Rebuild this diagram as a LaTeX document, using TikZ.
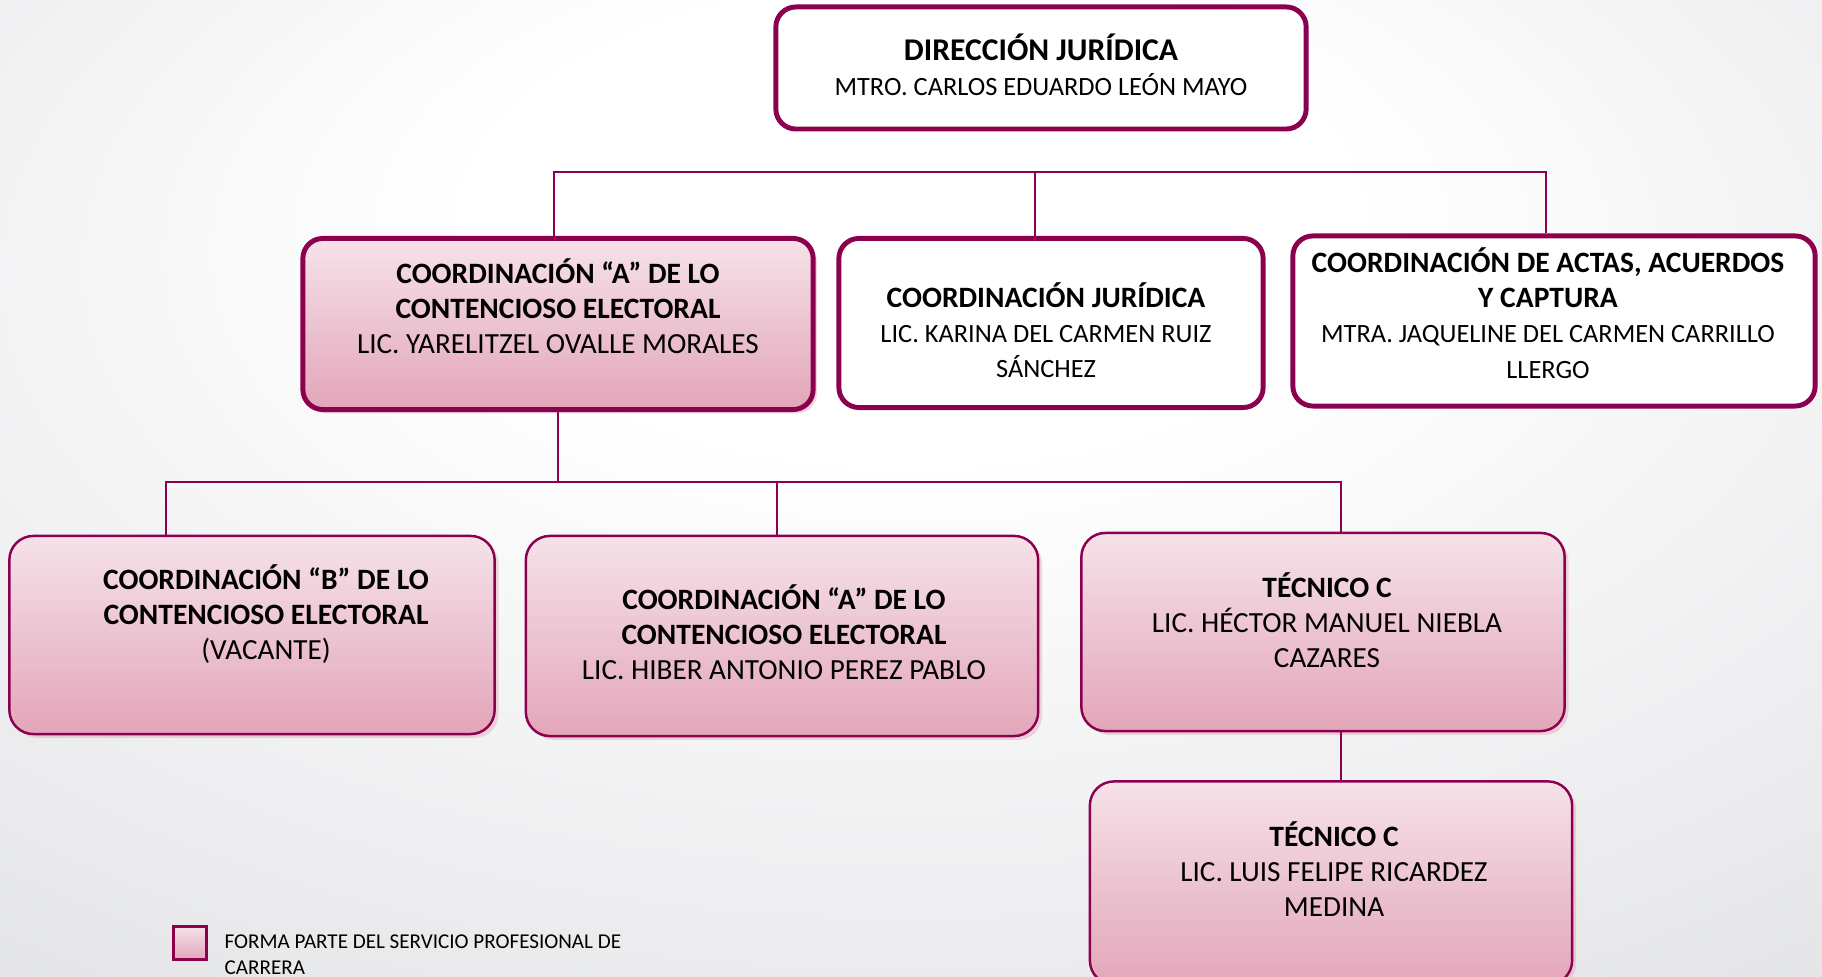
\documentclass[tikz,border=0pt]{standalone}
\usepackage{fontspec}
\setmainfont{Carlito}
\usetikzlibrary{shadows}

\definecolor{vino}{RGB}{140,0,80}
\definecolor{rosaclaro}{RGB}{246,226,233}
\definecolor{rosaosc}{RGB}{227,166,185}
\definecolor{gris}{RGB}{222,223,226}
\pgfdeclareradialshading{fondo}{\pgfpoint{0bp}{16bp}}{color(0bp)=(white); color(12bp)=(white); color(48bp)=(gris); color(80bp)=(gris)}
\newcommand{\titulo}[1]{{\fontsize{8.4}{10}\selectfont\bfseries #1}}

\begin{document}
\begin{tikzpicture}[x=0.01cm,y=-0.01cm,font=\fontsize{8.3}{10}\selectfont,
  caja/.style={draw=vino,line width=1.4pt,rounded corners=0.2cm,fill=white},
  rosa/.style={draw=vino,line width=0.7pt,rounded corners=0.24cm,
    top color=rosaclaro,bottom color=rosaosc,
    drop shadow={shadow xshift=1.1pt,shadow yshift=-1.1pt,fill=rosaosc,opacity=0.45}},
  rosagrueso/.style={rosa,line width=1.4pt,rounded corners=0.2cm},
  texto/.style={align=center,inner sep=0pt},
  textochico/.style={texto,font=\fontsize{7.5}{10}\selectfont},
  linea/.style={draw=vino,line width=0.7pt}]

\useasboundingbox (0,0) rectangle (1822,977);
\clip (0,0) rectangle (1822,977);
\shade[shading=fondo] (0,0) rectangle (1822,977);

% direccion
\node[caja,minimum width=5.3cm,minimum height=1.22cm] (dir) at (1041,68) {};
\node[textochico] (dirt) at (1041,65) {{\fontsize{9}{10}\selectfont\bfseries DIRECCIÓN JURÍDICA}\\MTRO. CARLOS EDUARDO LEÓN MAYO};

% coordinaciones
\node[rosagrueso,minimum width=5.1cm,minimum height=1.71cm] (a1) at (558,324) {};
\node[texto] (a1t) at (558,306) {\titulo{COORDINACIÓN “A” DE LO}\\\titulo{CONTENCIOSO ELECTORAL}\\LIC. YARELITZEL OVALLE MORALES};

\node[caja,minimum width=4.24cm,minimum height=1.69cm] (jur) at (1051,323) {};
\node[textochico] (jurt) at (1046,330) {\titulo{COORDINACIÓN JURÍDICA}\\LIC. KARINA DEL CARMEN RUIZ\\SÁNCHEZ};

\node[caja,minimum width=5.22cm,minimum height=1.70cm] (act) at (1554,321) {};
\node[textochico] (actt) at (1548,313) {\titulo{COORDINACIÓN DE ACTAS, ACUERDOS}\\\titulo{Y CAPTURA}\\MTRA. JAQUELINE DEL CARMEN CARRILLO\\LLERGO};

% tercer nivel
\node[rosa,minimum width=4.85cm,minimum height=1.98cm] (b) at (252,635) {};
\node[texto] (bt) at (266,614) {\titulo{COORDINACIÓN “B” DE LO}\\\titulo{CONTENCIOSO ELECTORAL}\\(VACANTE)};

\node[rosa,minimum width=5.12cm,minimum height=2.0cm] (a2) at (782,636) {};
\node[texto] (a2t) at (784,632) {\titulo{COORDINACIÓN “A” DE LO}\\\titulo{CONTENCIOSO ELECTORAL}\\LIC. HIBER ANTONIO PEREZ PABLO};

\node[rosa,minimum width=4.83cm,minimum height=1.98cm] (t1) at (1323,632) {};
\node[texto] (t1t) at (1327,620) {\titulo{TÉCNICO C}\\LIC. HÉCTOR MANUEL NIEBLA\\CAZARES};

\node[rosa,minimum width=4.82cm,minimum height=2.03cm] (t2) at (1331,883) {};
\node[texto] (t2t) at (1334,869) {\titulo{TÉCNICO C}\\LIC. LUIS FELIPE RICARDEZ\\MEDINA};

% lineas
\coordinate (busA) at (554,172);
\coordinate (busB) at (1035,172);
\coordinate (busC) at (1546,172);
\draw[linea] (a1.north -| busA) -- (busA) -- (busC) -- (act.north -| busC);
\draw[linea] (busB) -- (jur.north -| busB);

\coordinate (busL) at (166,482);
\coordinate (busM) at (777,482);
\coordinate (busR) at (1341,482);
\draw[linea] (a1.south) -- (a1.south |- busL);
\draw[linea] (b.north -| busL) -- (busL) -- (busR) -- (t1.north -| busR);
\draw[linea] (busM) -- (a2.north -| busM);
\draw[linea] (t1.south -| busR) -- (t2.north -| busR);

% simbologia
\node[draw=vino,line width=1pt,top color=rosaclaro,bottom color=rosaosc,minimum size=0.33cm,inner sep=0pt] (leg) at (190,943) {};
\node[align=left,inner sep=0pt,anchor=west,font=\fontsize{6.0}{7.4}\selectfont] (legt) at (224,955) {FORMA PARTE DEL SERVICIO PROFESIONAL DE\\CARRERA};

\end{tikzpicture}
\end{document}
